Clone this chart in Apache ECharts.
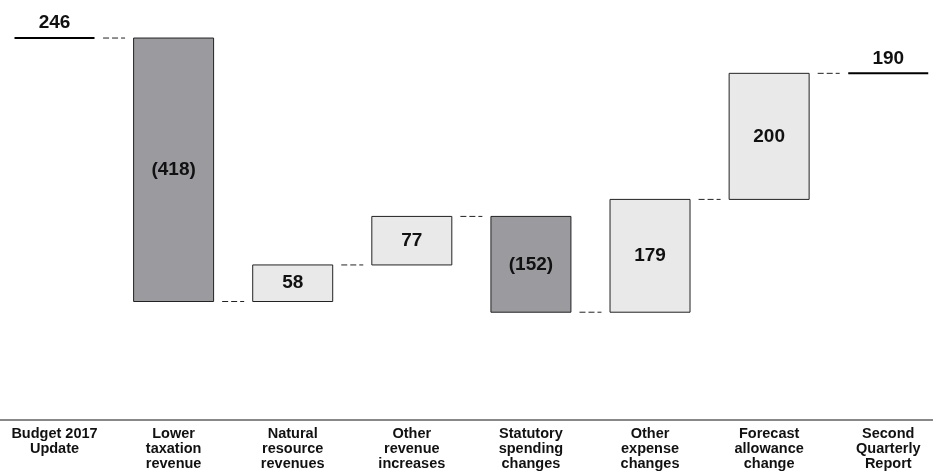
<!DOCTYPE html>
<html><head><meta charset="utf-8">
<script src="https://cdn.jsdelivr.net/npm/echarts@6/dist/echarts.min.js"></script>
<style>html,body{margin:0;padding:0;background:#fff}#c{width:933px;height:474px}</style>
</head><body><div id="c"></div>
<script>
const categories = ['Budget 2017\nUpdate','Lower\ntaxation\nrevenue','Natural\nresource\nrevenues','Other\nrevenue\nincreases','Statutory\nspending\nchanges','Other\nexpense\nchanges','Forecast\nallowance\nchange','Second\nQuarterly\nReport'];
const startTotal = 246;
const changes = [-418, 58, 77, -152, 179, 200];
const endTotal = 190;

// build waterfall items: [index, base, end, kind, value]
const items = [];
items.push([0, 0, startTotal, 0, startTotal]);
let run = startTotal;
changes.forEach((c, i) => { items.push([i + 1, run, run + c, 1, c]); run += c; });
items.push([categories.length - 1, 0, endTotal, 0, endTotal]);
const catIdx = categories.map((_, i) => i);

const FONT = '"Liberation Sans", Arial, sans-serif';
const chart = echarts.init(document.getElementById('c'), null, {renderer: 'canvas'});
chart.setOption({
  animation: false,
  grid: {left: 0, right: 0, top: 4, bottom: 54},
  xAxis: {
    type: 'value', min: -0.4576, max: 7.3758,
    splitLine: {show: false},
    axisLine: {show: true, onZero: false, lineStyle: {color: '#888', width: 2}},
    axisTick: {show: false},
    axisLabel: {customValues: catIdx, formatter: v => categories[Math.round(v)] || '', showMinLabel: true, showMaxLabel: true, hideOverlap: false,
      color: '#111', fontWeight: 'bold', fontSize: 14.5, lineHeight: 15, fontFamily: FONT, margin: 6}
  },
  yAxis: {type: 'value', min: -360, max: 300, show: false, splitLine: {show: false}},
  series: [{
    type: 'custom',
    data: items,
    encode: {x: 0, y: [1, 2]},
    renderItem: function (params, api) {
      const idx = api.value(0), base = api.value(1), end = api.value(2), kind = api.value(3), v = api.value(4);
      const cw = api.size([1, 0])[0];
      const bw = 80;
      const pEnd = api.coord([idx, end]);
      const pBase = api.coord([idx, base]);
      const cx = pEnd[0];
      const children = [];
      if (kind === 0) {
        children.push({type: 'line', shape: {x1: cx - bw / 2, y1: pEnd[1], x2: cx + bw / 2, y2: pEnd[1]}, style: {stroke: '#000', lineWidth: 2}});
        children.push({type: 'text', style: {text: String(v), x: cx, y: pEnd[1] - 15, align: 'center', verticalAlign: 'middle', font: 'bold 19px ' + FONT, fill: '#111'}});
      } else {
        const top = Math.min(pEnd[1], pBase[1]), h = Math.abs(pEnd[1] - pBase[1]);
        children.push({type: 'rect', shape: {x: cx - bw / 2, y: top, width: bw, height: h},
          style: {fill: v < 0 ? '#9b9b9f' : '#e9e9e9', stroke: '#222', lineWidth: 1}});
        children.push({type: 'text', style: {text: v < 0 ? '(' + (-v) + ')' : String(v), x: cx, y: top + h / 2, align: 'center', verticalAlign: 'middle', font: 'bold 19px ' + FONT, fill: '#111'}});
      }
      if (params.dataIndex < items.length - 1) {
        const bx = cx + cw / 2;
        children.push({type: 'line', shape: {x1: bx - 11, y1: pEnd[1], x2: bx + 11, y2: pEnd[1]}, style: {stroke: '#222', lineWidth: 1, lineDash: [6, 3]}});
      }
      return {type: 'group', children: children};
    }
  }]
});
</script>
</body></html>
